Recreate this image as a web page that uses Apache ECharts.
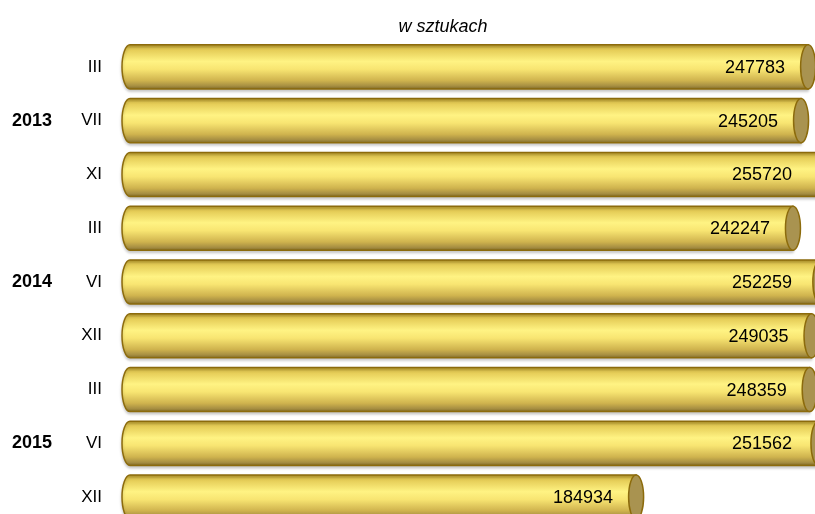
<!DOCTYPE html>
<html>
<head>
<meta charset="utf-8">
<script src="https://cdn.jsdelivr.net/npm/echarts@6/dist/echarts.min.js"></script>
<style>
  html, body { margin: 0; padding: 0; background: #fff; width: 815px; height: 514px; overflow: hidden; }
  /* the chart runs past the window on the right and bottom, like the cropped original */
  #chart { width: 951px; height: 524px; }
</style>
</head>
<body>
<div id="chart"></div>
<script>
// data
var months = ['III', 'VII', 'XI', 'III', 'VI', 'XII', 'III', 'VI', 'XII'];
var years = ['', '2013', '', '', '2014', '', '', '2015', ''];
var values = [247783, 245205, 255720, 242247, 252259, 249035, 248359, 251562, 184934];

var viewW = 815;
var myChart = echarts.init(document.getElementById('chart'));

// cylinder: rounded left end, flat face on the right
function renderItem(params, api) {
  var v = api.value(0);
  var ci = api.value(1);
  var start = api.coord([0, ci]);
  var end = api.coord([v, ci]);
  var band = api.size([0, 1])[1];
  var h = band * 0.82;
  var rx = 8;
  var x0 = start[0], x1 = end[0], cy = start[1];
  var y0 = cy - h / 2, y1 = cy + h / 2;
  var path = 'M' + x0 + ' ' + y0 + ' L' + x1 + ' ' + y0 + ' L' + x1 + ' ' + y1 +
    ' L' + x0 + ' ' + y1 + ' A' + rx + ' ' + (h / 2) + ' 0 0 1 ' + x0 + ' ' + y0 + ' Z';
  var textX = Math.min(x1, viewW) - 23;
  return {
    type: 'group',
    children: [
      {
        type: 'path',
        shape: { pathData: path },
        style: {
          fill: {
            type: 'linear', x: 0, y: 0, x2: 0, y2: 1,
            colorStops: [
              { offset: 0, color: '#a88a20' },
              { offset: 0.1, color: '#e2c852' },
              { offset: 0.38, color: '#fff383' },
              { offset: 0.55, color: '#f8e572' },
              { offset: 0.8, color: '#cfb34e' },
              { offset: 0.92, color: '#a68e42' },
              { offset: 1, color: '#7a6420' }
            ]
          },
          stroke: '#8c6b0c',
          lineWidth: 1.5,
          shadowBlur: 3,
          shadowOffsetY: 2,
          shadowColor: 'rgba(0,0,0,0.2)'
        }
      },
      {
        type: 'ellipse',
        shape: { cx: x1, cy: cy, rx: 7.5, ry: h / 2 },
        style: { fill: '#a99350', stroke: '#8c6b0c', lineWidth: 1.5 }
      },
      {
        type: 'text',
        style: {
          text: String(v),
          x: textX,
          y: cy + 1,
          align: 'right',
          verticalAlign: 'middle',
          font: '18px "Liberation Sans", Arial, sans-serif',
          fill: '#000'
        }
      }
    ]
  };
}

var option = {
  animation: false,
  title: {
    text: 'w sztukach',
    left: 438,
    top: 13,
    textAlign: 'center',
    textStyle: {
      fontFamily: '"Liberation Sans", Arial, sans-serif',
      fontStyle: 'italic',
      fontWeight: 'normal',
      fontSize: 18,
      color: '#000'
    }
  },
  grid: { left: 130, right: 0, top: 40, bottom: 0 },
  xAxis: {
    type: 'value',
    min: 0,
    max: 300000,
    show: false
  },
  yAxis: [
    {
      type: 'category',
      data: months,
      inverse: true,
      axisLine: { show: false },
      axisTick: { show: false },
      axisLabel: {
        margin: 28,
        color: '#000',
        fontSize: 17,
        fontFamily: '"Liberation Sans", Arial, sans-serif'
      }
    },
    {
      type: 'category',
      data: years,
      inverse: true,
      position: 'left',
      offset: 0,
      axisLine: { show: false },
      axisTick: { show: false },
      axisLabel: {
        margin: 78,
        color: '#000',
        fontSize: 18,
        fontWeight: 'bold',
        fontFamily: '"Liberation Sans", Arial, sans-serif'
      }
    }
  ],
  series: [
    {
      type: 'custom',
      renderItem: renderItem,
      yAxisIndex: 0,
      clip: false,
      encode: { x: 0, y: 1 },
      data: values.map(function (v, i) { return [v, i]; })
    }
  ]
};

myChart.setOption(option);
</script>
</body>
</html>
